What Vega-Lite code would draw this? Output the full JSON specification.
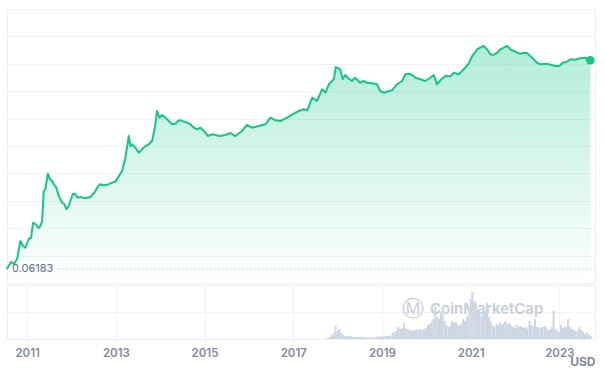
{
  "$schema": "https://vega.github.io/schema/vega-lite/v6.json",
  "padding": {"left": 5, "top": 8, "right": 12, "bottom": 0},
  "background": "white",
  "spacing": 0,
  "config": {
    "view": {"stroke": "#eceff3", "strokeWidth": 1},
    "font": "Inter",
    "axis": {"minExtent": 0},
    "concat": {"spacing": 0}
  },
  "datasets": {
    "price": [
      {"date": "2010-07-17", "price": 0.0618},
      {"date": "2010-08-22", "price": 0.0957},
      {"date": "2010-09-15", "price": 0.0845},
      {"date": "2010-10-10", "price": 0.115},
      {"date": "2010-11-06", "price": 0.355},
      {"date": "2010-11-28", "price": 0.259},
      {"date": "2010-12-17", "price": 0.233},
      {"date": "2011-01-14", "price": 0.402},
      {"date": "2011-02-03", "price": 0.436},
      {"date": "2011-02-19", "price": 1.11},
      {"date": "2011-03-09", "price": 1.03},
      {"date": "2011-04-07", "price": 0.8},
      {"date": "2011-04-20", "price": 0.9},
      {"date": "2011-05-04", "price": 1.24},
      {"date": "2011-05-18", "price": 8.03},
      {"date": "2011-05-31", "price": 9.1},
      {"date": "2011-06-20", "price": 23.6},
      {"date": "2011-07-07", "price": 17.0},
      {"date": "2011-07-25", "price": 15.0},
      {"date": "2011-08-08", "price": 12.4},
      {"date": "2011-08-29", "price": 9.87},
      {"date": "2011-09-18", "price": 5.88},
      {"date": "2011-10-16", "price": 3.87},
      {"date": "2011-11-03", "price": 3.57},
      {"date": "2011-11-20", "price": 2.61},
      {"date": "2011-12-09", "price": 3.15},
      {"date": "2011-12-23", "price": 4.31},
      {"date": "2012-01-14", "price": 6.79},
      {"date": "2012-02-02", "price": 6.53},
      {"date": "2012-02-22", "price": 5.29},
      {"date": "2012-03-14", "price": 5.52},
      {"date": "2012-04-25", "price": 5.1},
      {"date": "2012-06-05", "price": 5.52},
      {"date": "2012-07-08", "price": 7.22},
      {"date": "2012-07-30", "price": 9.87},
      {"date": "2012-08-22", "price": 12.2},
      {"date": "2012-09-24", "price": 11.5},
      {"date": "2012-10-21", "price": 11.8},
      {"date": "2012-12-01", "price": 13.5},
      {"date": "2012-12-28", "price": 14.4},
      {"date": "2013-02-21", "price": 28.0},
      {"date": "2013-03-20", "price": 64.1},
      {"date": "2013-04-17", "price": 248},
      {"date": "2013-04-30", "price": 133},
      {"date": "2013-05-14", "price": 148},
      {"date": "2013-06-10", "price": 120},
      {"date": "2013-07-08", "price": 87.7},
      {"date": "2013-08-04", "price": 108},
      {"date": "2013-09-01", "price": 133},
      {"date": "2013-09-29", "price": 148},
      {"date": "2013-10-26", "price": 182},
      {"date": "2013-11-17", "price": 417},
      {"date": "2013-12-06", "price": 1183},
      {"date": "2013-12-25", "price": 778},
      {"date": "2014-01-16", "price": 921},
      {"date": "2014-02-13", "price": 778},
      {"date": "2014-03-13", "price": 634},
      {"date": "2014-04-09", "price": 515},
      {"date": "2014-05-06", "price": 535},
      {"date": "2014-06-03", "price": 662},
      {"date": "2014-06-30", "price": 640},
      {"date": "2014-08-10", "price": 570},
      {"date": "2014-09-07", "price": 515},
      {"date": "2014-10-05", "price": 417},
      {"date": "2014-11-01", "price": 377},
      {"date": "2014-11-28", "price": 417},
      {"date": "2014-12-26", "price": 340},
      {"date": "2015-01-30", "price": 248},
      {"date": "2015-03-04", "price": 276},
      {"date": "2015-03-31", "price": 264},
      {"date": "2015-05-11", "price": 248},
      {"date": "2015-06-21", "price": 264},
      {"date": "2015-08-02", "price": 300},
      {"date": "2015-09-12", "price": 248},
      {"date": "2015-11-06", "price": 340},
      {"date": "2015-12-16", "price": 494},
      {"date": "2016-01-27", "price": 417},
      {"date": "2016-03-23", "price": 464},
      {"date": "2016-05-17", "price": 515},
      {"date": "2016-06-27", "price": 778},
      {"date": "2016-08-07", "price": 662},
      {"date": "2016-09-17", "price": 634},
      {"date": "2016-11-11", "price": 778},
      {"date": "2017-01-05", "price": 1000},
      {"date": "2017-02-16", "price": 1183},
      {"date": "2017-03-29", "price": 1315},
      {"date": "2017-04-26", "price": 1236},
      {"date": "2017-06-06", "price": 2712},
      {"date": "2017-07-16", "price": 2207},
      {"date": "2017-08-26", "price": 4581},
      {"date": "2017-09-23", "price": 3704},
      {"date": "2017-10-21", "price": 6258},
      {"date": "2017-12-01", "price": 8551},
      {"date": "2017-12-17", "price": 18400},
      {"date": "2018-01-23", "price": 15960},
      {"date": "2018-02-12", "price": 8551},
      {"date": "2018-03-05", "price": 11170},
      {"date": "2018-04-02", "price": 9000},
      {"date": "2018-04-29", "price": 7691},
      {"date": "2018-05-26", "price": 9441},
      {"date": "2018-07-06", "price": 6918},
      {"date": "2018-08-03", "price": 7691},
      {"date": "2018-08-30", "price": 6918},
      {"date": "2018-10-11", "price": 6700},
      {"date": "2018-11-21", "price": 6258},
      {"date": "2018-12-18", "price": 4121},
      {"date": "2019-01-16", "price": 3704},
      {"date": "2019-02-12", "price": 3945},
      {"date": "2019-03-25", "price": 4303},
      {"date": "2019-05-05", "price": 6258},
      {"date": "2019-06-16", "price": 7691},
      {"date": "2019-07-13", "price": 11670},
      {"date": "2019-08-10", "price": 12130},
      {"date": "2019-09-06", "price": 11170},
      {"date": "2019-10-03", "price": 9441},
      {"date": "2019-11-13", "price": 8551},
      {"date": "2019-12-24", "price": 7691},
      {"date": "2020-02-03", "price": 9441},
      {"date": "2020-03-03", "price": 11170},
      {"date": "2020-03-30", "price": 6258},
      {"date": "2020-04-27", "price": 8035},
      {"date": "2020-06-07", "price": 10500},
      {"date": "2020-07-18", "price": 10300},
      {"date": "2020-08-15", "price": 12900},
      {"date": "2020-09-25", "price": 11670},
      {"date": "2020-11-05", "price": 15960},
      {"date": "2020-12-16", "price": 22900},
      {"date": "2021-01-13", "price": 36560},
      {"date": "2021-02-04", "price": 44980},
      {"date": "2021-02-23", "price": 55590},
      {"date": "2021-03-21", "price": 61400},
      {"date": "2021-04-18", "price": 68250},
      {"date": "2021-05-16", "price": 55590},
      {"date": "2021-06-12", "price": 40650},
      {"date": "2021-07-10", "price": 38900},
      {"date": "2021-08-07", "price": 44980},
      {"date": "2021-09-03", "price": 55590},
      {"date": "2021-10-01", "price": 61400},
      {"date": "2021-10-28", "price": 68250},
      {"date": "2021-11-24", "price": 55590},
      {"date": "2021-12-22", "price": 50000},
      {"date": "2022-01-18", "price": 44980},
      {"date": "2022-02-14", "price": 42270},
      {"date": "2022-03-14", "price": 44980},
      {"date": "2022-04-10", "price": 44000},
      {"date": "2022-05-07", "price": 36560},
      {"date": "2022-06-04", "price": 29790},
      {"date": "2022-07-01", "price": 24100},
      {"date": "2022-07-28", "price": 21800},
      {"date": "2022-09-03", "price": 22500},
      {"date": "2022-10-06", "price": 21800},
      {"date": "2022-11-02", "price": 20850},
      {"date": "2022-11-29", "price": 19600},
      {"date": "2023-01-01", "price": 19600},
      {"date": "2023-01-29", "price": 24100},
      {"date": "2023-03-05", "price": 25650},
      {"date": "2023-04-01", "price": 29790},
      {"date": "2023-05-12", "price": 29000},
      {"date": "2023-06-23", "price": 31700},
      {"date": "2023-08-03", "price": 32900},
      {"date": "2023-09-13", "price": 28000}
    ],
    "volume": [
      {"date": "2017-10-01", "volume": 3.5},
      {"date": "2017-10-15", "volume": 7},
      {"date": "2017-11-01", "volume": 14},
      {"date": "2017-11-15", "volume": 28},
      {"date": "2017-12-01", "volume": 42},
      {"date": "2017-12-15", "volume": 91},
      {"date": "2018-01-01", "volume": 56},
      {"date": "2018-01-15", "volume": 70},
      {"date": "2018-02-01", "volume": 42},
      {"date": "2018-02-15", "volume": 28},
      {"date": "2018-03-01", "volume": 21},
      {"date": "2018-03-15", "volume": 21},
      {"date": "2018-04-01", "volume": 17.5},
      {"date": "2018-04-15", "volume": 21},
      {"date": "2018-05-01", "volume": 17.5},
      {"date": "2018-05-15", "volume": 14},
      {"date": "2018-06-01", "volume": 14},
      {"date": "2018-06-15", "volume": 14},
      {"date": "2018-07-01", "volume": 14},
      {"date": "2018-07-15", "volume": 14},
      {"date": "2018-08-01", "volume": 14},
      {"date": "2018-08-15", "volume": 10.5},
      {"date": "2018-09-01", "volume": 10.5},
      {"date": "2018-09-15", "volume": 10.5},
      {"date": "2018-10-01", "volume": 10.5},
      {"date": "2018-10-15", "volume": 10.5},
      {"date": "2018-11-01", "volume": 10.5},
      {"date": "2018-11-15", "volume": 17.5},
      {"date": "2018-12-01", "volume": 17.5},
      {"date": "2018-12-15", "volume": 17.5},
      {"date": "2019-01-01", "volume": 17.5},
      {"date": "2019-01-15", "volume": 17.5},
      {"date": "2019-02-01", "volume": 21},
      {"date": "2019-02-15", "volume": 21},
      {"date": "2019-03-01", "volume": 21},
      {"date": "2019-03-15", "volume": 24.5},
      {"date": "2019-04-01", "volume": 42},
      {"date": "2019-04-15", "volume": 49},
      {"date": "2019-05-01", "volume": 56},
      {"date": "2019-05-15", "volume": 84},
      {"date": "2019-06-01", "volume": 70},
      {"date": "2019-06-15", "volume": 77},
      {"date": "2019-07-01", "volume": 112},
      {"date": "2019-07-15", "volume": 77},
      {"date": "2019-08-01", "volume": 70},
      {"date": "2019-08-15", "volume": 63},
      {"date": "2019-09-01", "volume": 63},
      {"date": "2019-09-15", "volume": 56},
      {"date": "2019-10-01", "volume": 63},
      {"date": "2019-10-15", "volume": 70},
      {"date": "2019-11-01", "volume": 63},
      {"date": "2019-11-15", "volume": 70},
      {"date": "2019-12-01", "volume": 63},
      {"date": "2019-12-15", "volume": 70},
      {"date": "2020-01-01", "volume": 77},
      {"date": "2020-01-15", "volume": 98},
      {"date": "2020-02-01", "volume": 105},
      {"date": "2020-02-15", "volume": 119},
      {"date": "2020-03-01", "volume": 140},
      {"date": "2020-03-15", "volume": 231},
      {"date": "2020-04-01", "volume": 154},
      {"date": "2020-04-15", "volume": 140},
      {"date": "2020-05-01", "volume": 189},
      {"date": "2020-05-15", "volume": 175},
      {"date": "2020-06-01", "volume": 126},
      {"date": "2020-06-15", "volume": 98},
      {"date": "2020-07-01", "volume": 84},
      {"date": "2020-07-15", "volume": 91},
      {"date": "2020-08-01", "volume": 126},
      {"date": "2020-08-15", "volume": 112},
      {"date": "2020-09-01", "volume": 119},
      {"date": "2020-09-15", "volume": 98},
      {"date": "2020-10-01", "volume": 91},
      {"date": "2020-10-15", "volume": 105},
      {"date": "2020-11-01", "volume": 140},
      {"date": "2020-11-15", "volume": 126},
      {"date": "2020-12-01", "volume": 154},
      {"date": "2020-12-15", "volume": 175},
      {"date": "2021-01-01", "volume": 280},
      {"date": "2021-01-15", "volume": 329},
      {"date": "2021-02-01", "volume": 266},
      {"date": "2021-02-15", "volume": 252},
      {"date": "2021-03-01", "volume": 210},
      {"date": "2021-03-15", "volume": 175},
      {"date": "2021-04-01", "volume": 168},
      {"date": "2021-04-15", "volume": 210},
      {"date": "2021-05-01", "volume": 196},
      {"date": "2021-05-15", "volume": 252},
      {"date": "2021-06-01", "volume": 154},
      {"date": "2021-06-15", "volume": 126},
      {"date": "2021-07-01", "volume": 98},
      {"date": "2021-07-15", "volume": 84},
      {"date": "2021-08-01", "volume": 105},
      {"date": "2021-08-15", "volume": 98},
      {"date": "2021-09-01", "volume": 119},
      {"date": "2021-09-15", "volume": 98},
      {"date": "2021-10-01", "volume": 112},
      {"date": "2021-10-15", "volume": 126},
      {"date": "2021-11-01", "volume": 105},
      {"date": "2021-11-15", "volume": 112},
      {"date": "2021-12-01", "volume": 98},
      {"date": "2021-12-15", "volume": 84},
      {"date": "2022-01-01", "volume": 77},
      {"date": "2022-01-15", "volume": 98},
      {"date": "2022-02-01", "volume": 84},
      {"date": "2022-02-15", "volume": 91},
      {"date": "2022-03-01", "volume": 84},
      {"date": "2022-03-15", "volume": 77},
      {"date": "2022-04-01", "volume": 84},
      {"date": "2022-04-15", "volume": 70},
      {"date": "2022-05-01", "volume": 126},
      {"date": "2022-05-15", "volume": 98},
      {"date": "2022-06-01", "volume": 91},
      {"date": "2022-06-15", "volume": 140},
      {"date": "2022-07-01", "volume": 84},
      {"date": "2022-07-15", "volume": 84},
      {"date": "2022-08-01", "volume": 77},
      {"date": "2022-08-15", "volume": 84},
      {"date": "2022-09-01", "volume": 91},
      {"date": "2022-09-15", "volume": 77},
      {"date": "2022-10-01", "volume": 63},
      {"date": "2022-10-15", "volume": 70},
      {"date": "2022-11-01", "volume": 84},
      {"date": "2022-11-15", "volume": 196},
      {"date": "2022-12-01", "volume": 70},
      {"date": "2022-12-15", "volume": 56},
      {"date": "2023-01-01", "volume": 49},
      {"date": "2023-01-15", "volume": 98},
      {"date": "2023-02-01", "volume": 77},
      {"date": "2023-02-15", "volume": 84},
      {"date": "2023-03-01", "volume": 84},
      {"date": "2023-03-15", "volume": 140},
      {"date": "2023-04-01", "volume": 84},
      {"date": "2023-04-15", "volume": 70},
      {"date": "2023-05-01", "volume": 63},
      {"date": "2023-05-15", "volume": 56},
      {"date": "2023-06-01", "volume": 56},
      {"date": "2023-06-15", "volume": 84},
      {"date": "2023-07-01", "volume": 63},
      {"date": "2023-07-15", "volume": 49},
      {"date": "2023-08-01", "volume": 35},
      {"date": "2023-08-15", "volume": 49},
      {"date": "2023-09-01", "volume": 28},
      {"date": "2023-09-15", "volume": 21}
    ],
    "minline": [{"price": 0.06183, "label": "0.06183"}],
    "brand": [{"logo": "Ⓜ", "name": "CoinMarketCap"}]
  },
  "vconcat": [
    {
      "width": 588,
      "height": 274,
      "layer": [
        {
          "data": {"name": "price"},
          "mark": {
            "type": "area",
            "fill": {
              "gradient": "linear", "x1": 0, "y1": 0, "x2": 0, "y2": 1,
              "stops": [
                {"offset": 0, "color": "rgba(22,199,132,0.33)"},
                {"offset": 1, "color": "rgba(22,199,132,0)"}
              ]
            }
          },
          "encoding": {
            "x": {"field": "date", "type": "temporal",
                  "scale": {"type": "utc", "padding": 0, "domain": [{"year": 2010, "month": 7, "date": 19, "utc": true}, {"year": 2023, "month": 10, "date": 22, "utc": true}]},
                  "axis": null},
            "y": {"field": "price", "type": "quantitative",
                  "scale": {"type": "log", "domain": [0.02582, 687100], "nice": false},
                  "axis": {"values": [0.1427, 0.7889, 4.36, 24.1, 133.2, 736.2, 4069, 22490, 124300], "labels": false, "ticks": false, "domain": false, "title": null, "grid": true, "gridColor": "#f1f3f6", "minExtent": 0}},
            "y2": {"datum": 0.02582}
          }
        },
        {
          "data": {"name": "price"},
          "mark": {"type": "line", "color": "#16c784", "strokeWidth": 2, "strokeJoin": "round"},
          "encoding": {
            "x": {"field": "date", "type": "temporal"},
            "y": {"field": "price", "type": "quantitative"}
          }
        },
        {
          "data": {"name": "price"},
          "transform": [
            {"window": [{"op": "row_number", "as": "rn"}], "sort": [{"field": "date", "order": "descending"}]},
            {"filter": "datum.rn == 1"}
          ],
          "mark": {"type": "circle", "color": "#16c784", "size": 75, "opacity": 1},
          "encoding": {
            "x": {"field": "date", "type": "temporal"},
            "y": {"field": "price", "type": "quantitative"}
          }
        },
        {
          "data": {"name": "minline"},
          "mark": {"type": "rule", "color": "#a6aebb", "strokeDash": [1, 3], "strokeWidth": 1},
          "encoding": {
            "x": {"datum": {"year": 2011, "month": 9, "date": 15, "utc": true}, "type": "temporal"},
            "x2": {"datum": {"year": 2023, "month": 10, "date": 22, "utc": true}},
            "y": {"field": "price", "type": "quantitative"}
          }
        },
        {
          "data": {"name": "minline"},
          "mark": {"type": "text", "align": "left", "baseline": "middle", "dx": 5, "fontSize": 11, "font": "Inter", "color": "#616e85"},
          "encoding": {
            "x": {"datum": {"year": 2010, "month": 7, "date": 19, "utc": true}, "type": "temporal"},
            "y": {"field": "price", "type": "quantitative"},
            "text": {"field": "label"}
          }
        }
      ]
    },
    {
      "width": 588,
      "height": 54,
      "layer": [
        {
          "data": {"name": "brand"},
          "mark": {"type": "text", "align": "center", "baseline": "middle", "fontSize": 22, "font": "DejaVu Sans", "color": "#bcc3d0", "opacity": 0.8},
          "encoding": {
            "x": {"datum": {"year": 2019, "month": 9, "date": 13, "utc": true}, "type": "temporal",
                  "scale": {"type": "utc", "padding": 0, "domain": [{"year": 2010, "month": 7, "date": 19, "utc": true}, {"year": 2023, "month": 10, "date": 22, "utc": true}]}},
            "y": {"datum": 210, "type": "quantitative"},
            "text": {"field": "logo"}
          }
        },
        {
          "data": {"name": "brand"},
          "mark": {"type": "text", "align": "left", "baseline": "middle", "fontSize": 15, "fontWeight": 600, "font": "Inter", "color": "#bcc3d0", "opacity": 0.8},
          "encoding": {
            "x": {"datum": {"year": 2020, "month": 2, "date": 1, "utc": true}, "type": "temporal"},
            "y": {"datum": 210, "type": "quantitative"},
            "text": {"field": "name"}
          }
        },
        {
          "data": {"name": "volume"},
          "mark": {"type": "bar", "color": "#cdd4e2", "width": 2},
          "encoding": {
            "x": {"field": "date", "type": "temporal",
                  "scale": {"type": "utc", "padding": 0, "domain": [{"year": 2010, "month": 7, "date": 19, "utc": true}, {"year": 2023, "month": 10, "date": 22, "utc": true}]},
                  "axis": {
                    "values": [{"year": 2011, "utc": true}, {"year": 2013, "utc": true}, {"year": 2015, "utc": true}, {"year": 2017, "utc": true}, {"year": 2019, "utc": true}, {"year": 2021, "utc": true}, {"year": 2023, "utc": true}],
                    "format": "%Y", "formatType": "utc",
                    "labelFont": "Inter", "labelFontSize": 11.5, "labelFontWeight": 600, "labelColor": "#808a9d", "labelPadding": 5,
                    "ticks": true, "tickSize": 3, "tickColor": "#eceff3",
                    "domain": false, "grid": true, "gridColor": "#f1f3f6",
                    "title": "USD", "titleAnchor": "end", "titleAlign": "right", "titleFont": "Inter", "titleFontSize": 12, "titleFontWeight": 700, "titleColor": "#808a9d", "titlePadding": -2
                  }},
            "y": {"field": "volume", "type": "quantitative",
                  "scale": {"domain": [0, 378], "nice": false},
                  "axis": {"values": [189], "labels": false, "ticks": false, "domain": false, "title": null, "grid": true, "gridColor": "#f1f3f6", "minExtent": 0}}
          }
        }
      ]
    }
  ]
}
